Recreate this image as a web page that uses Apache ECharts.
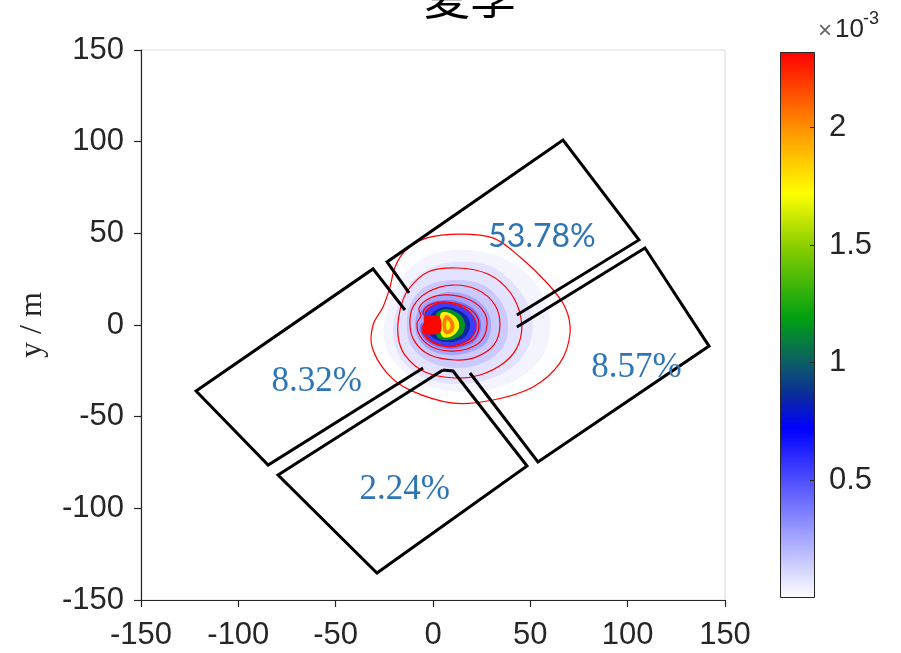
<!DOCTYPE html>
<html><head><meta charset="utf-8">
<script src="https://cdn.jsdelivr.net/npm/echarts@6/dist/echarts.min.js"></script>
<style>html,body{margin:0;padding:0;background:#fff}#c{width:901px;height:653px}</style>
</head><body><div id="c"></div>
<script>
// ---------- data ----------
const titleText = '夏季';
const yAxisTitle = 'y / m';
const axisMin = -150, axisMax = 150, axisStep = 50;
const cbTickStep = 0.5;         // colour bar ticks (x 10^-3)
const cbMax = 2.32;             // colour bar max (x 10^-3)
const cbBase = '×10';
const cbExponent = '-3';

// zone outlines (open polylines)
const rectNE = [[-12.3,17.5],[-23.6,34.4],[66.8,100.9],[105.8,46.4],[43.1,5.5]];
const rectW  = [[-14.4,8.2],[-30.8,30.6],[-121.7,-36.0],[-84.7,-76.4],[-5.1,-23.5]];
const rectS  = [[5.1,-24.5],[-79.6,-81.8],[-28.8,-135.3],[48.3,-76.9],[10.3,-25.1],[5.1,-24.5]];
const rectE  = [[43.1,-1.1],[108.9,42.0],[141.8,-11.5],[53.9,-74.7],[19.0,-26.2]];

// zone labels
const zoneLabels = ['53.78%','8.32%','2.24%','8.57%'];
const zoneLabelPos = [[56.0,48.3],[-59.8,-31.1],[-14.6,-90.0],[104.5,-23.5]];

// filled concentration contours (level in 10^-3)
const fillLevels = [0.03, 0.08, 0.15, 0.25, 0.38, 0.55, 0.85, 1.15, 1.75, 2.05, 1.75, 2.31];
const fill0 = [[11.3,40.9],[31.8,38.2],[47.3,28.9],[57.5,13.6],[60.1,-2.7],[55.0,-19.1],[39.5,-31.6],[16.4,-36.5],[-4.1,-32.7],[-18.5,-21.8],[-25.2,-8.2],[-23.6,8.2],[-18.5,21.8],[-6.7,35.5]];
const fill1 = [[11.3,34.4],[29.3,32.2],[42.1,21.8],[49.8,8.2],[50.8,-5.5],[44.7,-19.1],[31.8,-28.4],[13.9,-32.2],[-4.1,-28.9],[-15.9,-19.1],[-20.5,-5.5],[-18.5,9.3],[-11.8,22.9],[-1.5,31.1]];
const fill2 = [[10.3,24.5],[25.7,21.8],[35.4,12.0],[38.5,0],[36.0,-12.0],[26.7,-20.2],[12.8,-23.5],[-1.5,-20.2],[-10.8,-12.0],[-13.4,-1.6],[-11.8,10.9],[-4.1,20.7]];
const fill3 = [[8.7,18.0],[20.0,15.3],[27.7,8.2],[29.8,-0.5],[27.2,-9.8],[19.0,-14.7],[8.7,-16.4],[-1.5,-13.6],[-7.7,-7.1],[-9.2,1.6],[-6.7,9.3],[0,15.3]];
const fill4 = [[7.2,13.6],[16.9,11.5],[23.1,6.0],[24.7,-1.1],[22.1,-8.2],[15.4,-12.0],[7.7,-13.1],[-0.5,-10.9],[-5.6,-6.0],[-6.7,-0.5],[-4.1,3.3],[-6.2,7.1],[-1.5,12.0]];
const fill5 = [[6.7,12.0],[14.9,9.8],[20.5,4.9],[22.1,-1.1],[19.5,-7.1],[13.9,-10.4],[7.2,-11.5],[0,-9.3],[-4.1,-4.9],[-4.6,-1.1],[-2.1,2.7],[-4.1,6.5],[0.5,10.9]];
const fill6 = [[7.2,9.8],[13.9,7.6],[18.0,3.8],[19.0,-1.1],[16.9,-6.0],[12.3,-8.7],[6.7,-9.3],[1.0,-7.6],[-2.1,-4.4],[-1.5,-0.5],[0.5,2.2],[-1.0,5.5],[2.6,8.7]];
const fill7 = [[6.7,8.7],[11.8,7.1],[15.4,3.8],[16.4,-1.1],[14.4,-5.5],[10.3,-7.6],[5.6,-8.2],[2.1,-6.5],[1.5,-2.2],[2.6,1.6],[1.5,6.0]];
const fill8 = [[6.7,7.1],[10.3,5.5],[12.8,2.7],[13.4,-1.1],[11.8,-4.4],[8.7,-6.5],[5.1,-6.5],[3.6,-2.7],[3.6,2.7],[4.1,6.5]];
const fill9 = [[6.7,5.5],[9.2,3.8],[10.8,1.1],[10.8,-2.2],[9.2,-4.4],[6.7,-4.9],[5.1,-2.7],[5.1,2.7]];
const fill10 = [[7.2,2.7],[8.7,1.1],[8.7,-1.6],[7.2,-2.7],[6.7,0]];
const fill11 = [[-4.6,4.4],[2.6,4.9],[4.1,2.7],[4.1,-3.3],[2.1,-4.9],[-4.1,-4.9],[-5.1,-2.7],[-4.6,1.6]];

// red contour lines
const line1 = [[13.9,49.6],[30.8,47.5],[44.7,37.1],[58.6,22.9],[67.8,9.8],[70.4,-4.4],[65.2,-20.7],[51.4,-33.8],[30.8,-40.9],[10.3,-42.6],[-11.8,-35.5],[-23.6,-26.2],[-31.3,-12.0],[-30.8,0],[-25.7,9.8],[-22.1,20.7],[-19.5,31.6],[-14.4,40.4],[-3.1,47.5]];
const line2 = [[12.3,31.1],[28.2,27.8],[39.5,18.0],[45.2,3.8],[44.2,-9.8],[37.0,-20.2],[24.1,-27.3],[11.3,-28.9],[-4.1,-25.6],[-14.4,-16.4],[-18.0,-5.5],[-16.9,8.2],[-12.8,19.1],[-2.6,28.9]];
const line3 = [[9.8,21.8],[23.1,19.1],[31.8,10.9],[34.4,0],[31.3,-10.9],[22.1,-17.5],[11.3,-19.1],[-1.5,-16.4],[-9.2,-9.3],[-11.8,-0.5],[-10.3,9.8],[-2.6,18.0]];
const line4 = [[7.7,16.4],[19.0,13.6],[26.2,7.1],[27.7,-0.5],[24.7,-8.7],[17.5,-13.1],[8.7,-14.2],[-0.5,-12.0],[-6.7,-6.0],[-8.2,1.1],[-6.2,4.9],[-7.2,9.3],[-1.5,14.7]];
const line5 = [[7.2,12.5],[15.9,10.4],[22.1,5.5],[23.6,-1.1],[21.1,-7.6],[14.9,-10.9],[7.7,-12.0],[0,-9.8],[-4.6,-5.5],[-5.6,-1.1],[-3.1,2.7],[-5.1,7.1],[-0.5,11.5]];
const line6 = fill5;

// colour map stops (value x10^-3, colour)
const cmapValues = [0, 0.72, 0.86, 1.0, 1.19, 1.5, 1.72, 2.0, 2.32];
const cmapColors = ['#ffffff','#0000ff','#0b2a9c','#0d5e66','#00a010','#8ccf00','#ffff00','#ff9000','#ff0000'];

// ---------- helpers ----------
function hex2rgb(h){return [1,3,5].map(i=>parseInt(h.substr(i,2),16));}
function cmap(v){
  if (v <= cmapValues[0]) return cmapColors[0];
  for (let i=1;i<cmapValues.length;i++){
    if (v <= cmapValues[i]){
      const t=(v-cmapValues[i-1])/(cmapValues[i]-cmapValues[i-1]);
      const a=hex2rgb(cmapColors[i-1]), b=hex2rgb(cmapColors[i]);
      const c=a.map((x,k)=>Math.round(x+(b[k]-x)*t));
      return 'rgb('+c.join(',')+')';
    }
  }
  return cmapColors[cmapColors.length-1];
}
const fills = [fill0,fill1,fill2,fill3,fill4,fill5,fill6,fill7,fill8,fill9,fill10,fill11]
  .map((pts,i)=>({pts, level: fillLevels[i]}));
const lines = [line1,line2,line3,line4,line5,line6];

function polySeries(list, styleFn, z, smooth){
  return {
    type:'custom', coordinateSystem:'cartesian2d', xAxisIndex:0, yAxisIndex:0,
    z, silent:true, animation:false,
    data: list.map(p => (p.pts || p)[0]),
    renderItem: (params, api) => {
      const p = list[params.dataIndex];
      const pts = (p.pts || p).map(q => api.coord(q));
      return {type:'polygon', shape:{points:pts, smooth:smooth}, style: styleFn(p)};
    }
  };
}

const chart = echarts.init(document.getElementById('c'), null, {renderer:'canvas'});
const axColor = '#262626';
const lblFont = 'Liberation Sans';

const option = {
  animation:false,
  backgroundColor:'#ffffff',
  textStyle:{fontFamily:lblFont},
  grid:[
    {left:141, right:176, top:50, bottom:53, show:true, borderColor:'#d9d9d9', borderWidth:1, backgroundColor:'#ffffff'},
    {left:780, width:35, top:52, bottom:55}
  ],
  xAxis:[
    {type:'value', gridIndex:0, min:axisMin, max:axisMax, interval:axisStep,
     axisLine:{show:true, onZero:false, lineStyle:{color:axColor, width:1.2}},
     axisTick:{show:true, length:7, lineStyle:{color:axColor, width:1.2}},
     axisLabel:{fontSize:31, color:axColor, margin:20, fontFamily:lblFont},
     splitLine:{show:false}},
    {type:'category', gridIndex:1, data:['cb'], show:false}
  ],
  yAxis:[
    {type:'value', gridIndex:0, min:axisMin, max:axisMax, interval:axisStep,
     name:yAxisTitle, nameLocation:'middle', nameRotate:90, nameGap:92,
     nameTextStyle:{fontFamily:'Liberation Serif', fontSize:32, color:axColor},
     axisLine:{show:true, onZero:false, lineStyle:{color:axColor, width:1.2}},
     axisTick:{show:true, length:7, lineStyle:{color:axColor, width:1.2}},
     axisLabel:{fontSize:31, color:axColor, margin:17, fontFamily:lblFont},
     splitLine:{show:false}},
    {type:'value', gridIndex:1, min:0, max:cbMax, interval:cbTickStep, position:'right', z:10,
     axisLine:{show:false},
     axisTick:{show:true, inside:true, length:5, lineStyle:{color:axColor, width:1}},
     axisLabel:{fontSize:31, color:axColor, margin:14, fontFamily:lblFont, showMinLabel:false, showMaxLabel:false,
       formatter: v => (v === 0 ? '' : String(v))},
     splitLine:{show:false}}
  ],
  graphic:[
    {type:'text', x:470, y:-3, z:100, style:{text:titleText, fontSize:46, fontFamily:'Noto Sans CJK SC', fill:'#000', align:'center', verticalAlign:'middle', textAlign:'center', textVerticalAlign:'middle'}},
    {type:'text', x:818, y:19, z:100, style:{text:'×', fontSize:24, fontFamily:lblFont, fill:'#666'}},
    {type:'text', x:835, y:17, z:100, style:{text:cbBase.slice(1), fontSize:26, fontFamily:lblFont, fill:axColor}},
    {type:'text', x:863, y:10, z:100, style:{text:cbExponent, fontSize:18, fontFamily:lblFont, fill:axColor}}
  ],
  series:[
    polySeries(fills, p => ({fill: cmap(p.level), stroke:null}), 2, 0.35),
    polySeries(lines, () => ({fill:'none', stroke:'#ff0000', lineWidth:1.2}), 3, 0.35),
    ...[rectNE, rectW, rectS, rectE].map(r => ({
      type:'line', xAxisIndex:0, yAxisIndex:0, data:r, symbol:'none', z:4, silent:true,
      lineStyle:{color:'#000', width:3, join:'miter'}
    })),
    {type:'scatter', xAxisIndex:0, yAxisIndex:0, symbolSize:1, z:5, silent:true,
     itemStyle:{color:'rgba(0,0,0,0)'},
     data: zoneLabelPos.map((p,i)=>({value:p, name:zoneLabels[i],
       label: i===0 ? {fontFamily:'Lato', fontSize:32} : {fontFamily:'Liberation Serif', fontSize:35}})),
     label:{show:true, position:'inside', formatter:'{b}', color:'#2e75b6', align:'center', verticalAlign:'middle', opacity:1}},
    {type:'bar', xAxisIndex:1, yAxisIndex:1, data:[cbMax], barWidth:'100%', silent:true, z:2,
     itemStyle:{borderColor:axColor, borderWidth:1,
       color:{type:'linear', x:0, y:1, x2:0, y2:0,
         colorStops: cmapValues.map((v,i)=>({offset:v/cbMax, color:cmapColors[i]}))}}}
  ]
};
chart.setOption(option);
</script></body></html>
